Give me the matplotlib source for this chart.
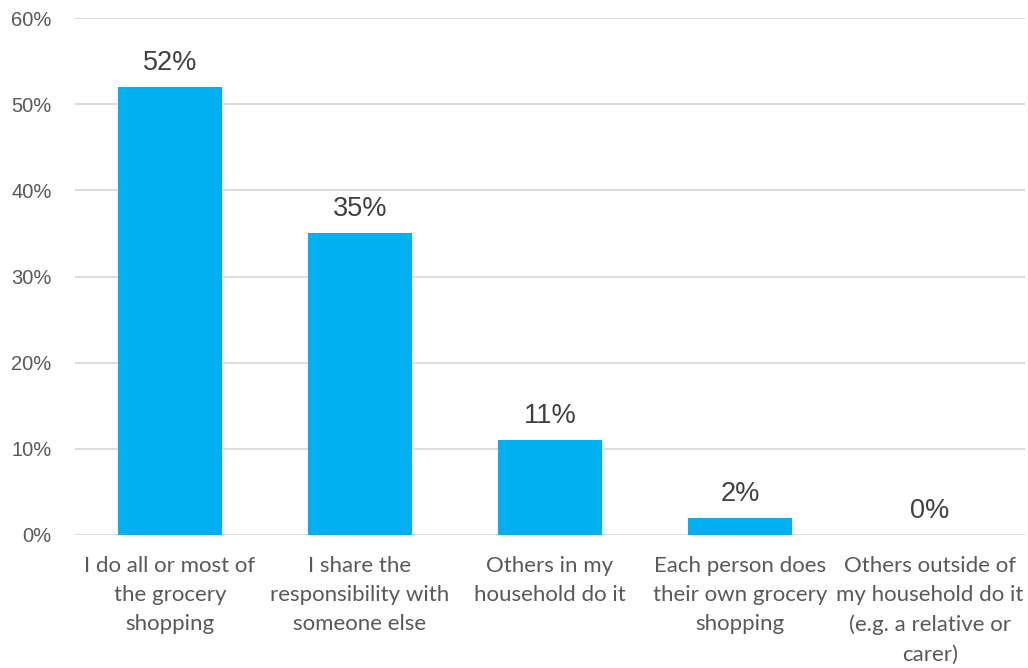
import matplotlib
matplotlib.use("Agg")
import matplotlib.pyplot as plt
from matplotlib.ticker import FuncFormatter

categories = [
    "I do all or most of\nthe grocery\nshopping",
    "I share the\nresponsibility with\nsomeone else",
    "Others in my\nhousehold do it",
    "Each person does\ntheir own grocery\nshopping",
    "Others outside of\nmy household do it\n(e.g. a relative or\ncarer)",
]
values = [52, 35, 11, 2, 0]
yticks = [0, 10, 20, 30, 40, 50, 60]

fig = plt.figure(figsize=(10.28, 6.68), dpi=100)
ax = fig.add_axes([75/1028, 1-535/668, 950/1028, (535-18)/668])

x = list(range(len(values)))
ax.bar(x, values, width=0.55, color="#00B0F0", zorder=3)
for xi, v in zip(x, values):
    ax.text(xi, v + 2.0, f"{v}%", ha="center", va="baseline", fontsize=19.5,
            color="#404040", family="Liberation Sans")

ax.set_xlim(-0.5, len(values) - 0.5)
ax.set_ylim(0, 60)
ax.set_yticks(yticks)
ax.yaxis.set_major_formatter(FuncFormatter(lambda v, p: f"{int(v)}%"))
ax.grid(axis="y", color="#D9D9D9", linewidth=1.3, zorder=0)
for s in ax.spines.values():
    s.set_visible(False)
ax.tick_params(axis="both", length=0)
ax.tick_params(axis="y", labelsize=14.5, labelcolor="#595959", pad=17)
for t in ax.get_yticklabels():
    t.set_family("Liberation Sans")
ax.set_xticks(x)
ax.set_xticklabels(categories, fontsize=16, color="#595959", family="Lato",
                   linespacing=1.58)
ax.tick_params(axis="x", pad=15)

fig.savefig("out.png", dpi=100)
